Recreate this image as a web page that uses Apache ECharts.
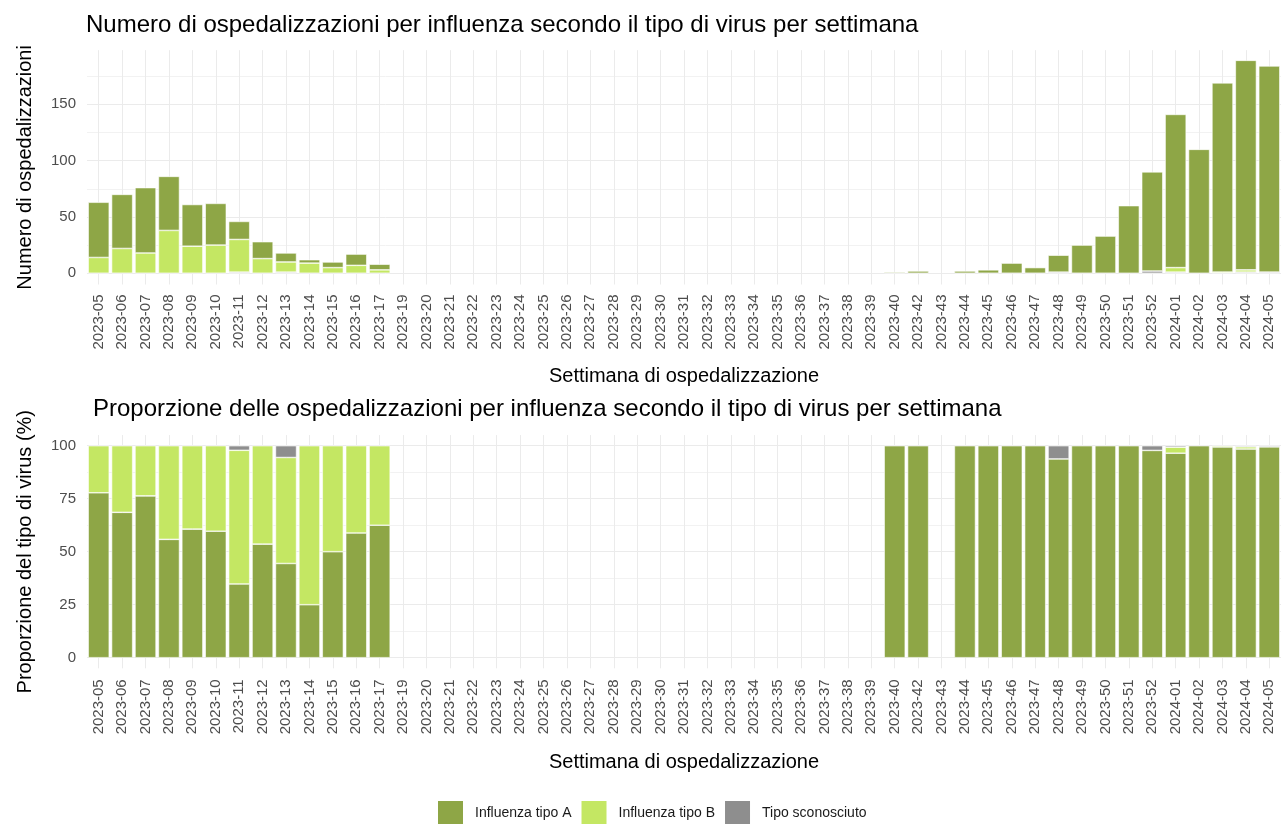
<!DOCTYPE html>
<html>
<head>
<meta charset="utf-8">
<title>Ospedalizzazioni per influenza</title>
<script src="https://cdn.jsdelivr.net/npm/echarts@6/dist/echarts.min.js"></script>
<style>
  html, body { margin: 0; padding: 0; background: #fff; }
  #chart { width: 1281px; height: 824px; }
</style>
</head>
<body>
<div id="chart"></div>
<script>
// settimane (2023-18 e 2023-41 non presenti nei dati)
const weeks = [
  '2023-05', '2023-06', '2023-07', '2023-08', '2023-09', '2023-10', '2023-11', '2023-12', '2023-13',
  '2023-14', '2023-15', '2023-16', '2023-17', '2023-19', '2023-20', '2023-21', '2023-22', '2023-23',
  '2023-24', '2023-25', '2023-26', '2023-27', '2023-28', '2023-29', '2023-30', '2023-31', '2023-32',
  '2023-33', '2023-34', '2023-35', '2023-36', '2023-37', '2023-38', '2023-39', '2023-40', '2023-42',
  '2023-43', '2023-44', '2023-45', '2023-46', '2023-47', '2023-48', '2023-49', '2023-50', '2023-51',
  '2023-52', '2024-01', '2024-02', '2024-03', '2024-04', '2024-05'
]

// numero di ospedalizzazioni per tipo
const tipoA = [
  49, 48, 58, 48, 37, 37, 16, 15, 8, 3, 5, 10, 5,
  0, 0, 0, 0, 0, 0, 0, 0, 0, 0, 0, 0, 0, 0, 0, 0, 0, 0, 0, 0, 0,
  1, 2, 0, 2, 3, 9, 5, 15, 25, 33, 60, 88, 136, 110, 168, 186, 183
]
const tipoB = [
  14, 22, 18, 38, 24, 25, 29, 13, 9, 9, 5, 7, 3,
  0, 0, 0, 0, 0, 0, 0, 0, 0, 0, 0, 0, 0, 0, 0, 0, 0, 0, 0, 0, 0,
  0, 0, 0, 0, 0, 0, 0, 0, 0, 0, 0, 0, 4, 0, 1, 2, 0
]
const sconosciuto = [
  0, 0, 0, 0, 0, 0, 1, 0, 1, 0, 0, 0, 0,
  0, 0, 0, 0, 0, 0, 0, 0, 0, 0, 0, 0, 0, 0, 0, 0, 0, 0, 0, 0, 0,
  0, 0, 0, 0, 0, 0, 0, 1, 0, 0, 0, 2, 1, 0, 0, 1, 1
]

const countTicks = [0, 50, 100, 150]
const pctTicks = [0, 25, 50, 75, 100]

const FONT = "'Liberation Sans', Arial, sans-serif"
const colors = { A: '#8ea646', B: '#c4e763', U: '#8e8e8e' }
const names = { A: 'Influenza tipo A', B: 'Influenza tipo B', U: 'Tipo sconosciuto' }

const totals = weeks.map((w, i) => tipoA[i] + tipoB[i] + sconosciuto[i])
const toPct = arr => arr.map((v, i) => (totals[i] && v ? v / totals[i] * 100 : null))
const noZero = arr => arr.map(v => (v ? v : null))

// griglia: linee principali e secondarie (ciclo di colori sui tick ogni "step")
const gridColors = ['transparent', 'transparent', '#ebebeb', 'transparent', 'transparent',
  'transparent', 'transparent', '#f2f2f2', 'transparent', 'transparent']

function setXAxis(gridIndex, margin, nameGap) {
  return {
    type: 'category',
    gridIndex,
    data: weeks,
    name: 'Settimana di ospedalizzazione',
    nameLocation: 'middle',
    nameGap,
    nameTextStyle: { color: '#000', fontSize: 20, fontFamily: FONT, lineHeight: 20 },
    axisLine: { show: false },
    axisTick: { show: false },
    axisLabel: {
      interval: 0,
      rotate: 90,
      margin,
      color: '#4d4d4d',
      fontSize: 15,
      fontFamily: FONT
    },
    splitLine: {
      show: true,
      alignWithLabel: true, // linee al centro delle categorie come ggplot
      lineStyle: { color: '#ebebeb', width: 1 }
    }
  }
}

function setYAxis(gridIndex, name, min, max, step, ticks) {
  return {
    type: 'value',
    gridIndex,
    min,
    max,
    interval: step,
    name,
    nameLocation: 'middle',
    nameGap: 52,
    nameTextStyle: { color: '#000', fontSize: 20, fontFamily: FONT },
    axisLine: { show: false },
    axisTick: { show: false },
    axisLabel: {
      margin: 11,
      color: '#4d4d4d',
      fontSize: 15,
      fontFamily: FONT,
      formatter: v => (ticks.indexOf(Math.round(v * 100) / 100) >= 0 ? String(v) : '')
    },
    splitLine: {
      show: true,
      showMaxLine: false,
      lineStyle: { color: gridColors, width: 1 }
    }
  }
}

function setBar(key, data, axisIndex, stack) {
  return {
    type: 'bar',
    name: names[key],
    xAxisIndex: axisIndex,
    yAxisIndex: axisIndex,
    stack,
    data,
    barCategoryGap: '10%',
    itemStyle: { color: colors[key], borderColor: '#ffffff', borderWidth: 0.6 },
    emphasis: { disabled: true }
  }
}

const chart = echarts.init(document.getElementById('chart'))
chart.setOption({
  animation: false,
  textStyle: { fontFamily: FONT },
  title: [
    {
      text: 'Numero di ospedalizzazioni per influenza secondo il tipo di virus per settimana',
      left: 86, top: 13, padding: 0,
      textStyle: { color: '#000', fontSize: 24, fontWeight: 'normal', fontFamily: FONT, lineHeight: 24 }
    },
    {
      text: 'Proporzione delle ospedalizzazioni per influenza secondo il tipo di virus per settimana',
      left: 93, top: 397, padding: 0,
      textStyle: { color: '#000', fontSize: 24, fontWeight: 'normal', fontFamily: FONT, lineHeight: 24 }
    }
  ],
  legend: {
    data: [names.A, names.B, names.U],
    left: 436,
    top: 799,
    padding: 0,
    itemWidth: 27,
    itemHeight: 27,
    itemGap: 8,
    icon: 'rect',
    selectedMode: false,
    textStyle: { color: '#1a1a1a', fontSize: 14, fontFamily: FONT, padding: [0, 0, 0, 6] }
  },
  grid: [
    { left: 87, right: 0, top: 50.2, height: 234.3, containLabel: false },
    { left: 87, right: 0, top: 435.1, height: 233.2, containLabel: false }
  ],
  xAxis: [setXAxis(0, 10, 82), setXAxis(1, 11, 84)],
  yAxis: [
    setYAxis(0, 'Numero di ospedalizzazioni', -10, 198, 5, countTicks),
    setYAxis(1, 'Proporzione del tipo di virus (%)', -5, 105, 2.5, pctTicks)
  ],
  series: [
    // conteggi: sconosciuto in basso, poi B, poi A
    setBar('U', noZero(sconosciuto), 0, 'n'),
    setBar('B', noZero(tipoB), 0, 'n'),
    setBar('A', noZero(tipoA), 0, 'n'),
    // proporzioni: A in basso, poi B, poi sconosciuto
    setBar('A', toPct(tipoA), 1, 'p'),
    setBar('B', toPct(tipoB), 1, 'p'),
    setBar('U', toPct(sconosciuto), 1, 'p')
  ]
})
</script>
</body>
</html>
